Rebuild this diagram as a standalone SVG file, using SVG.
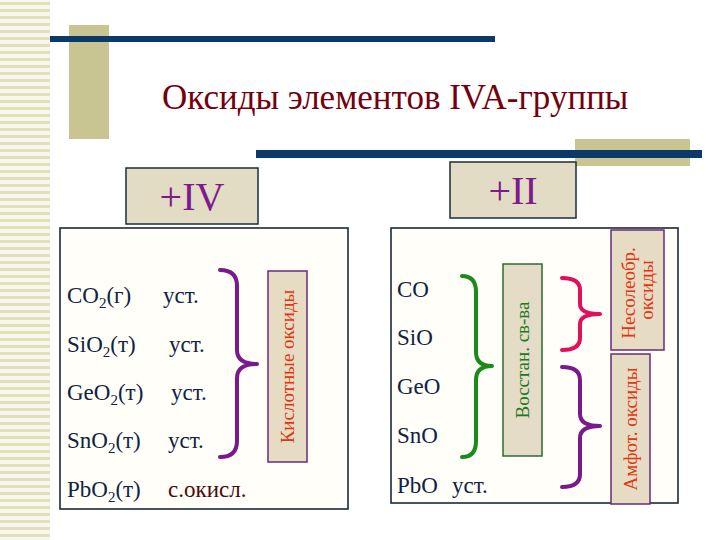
<svg xmlns="http://www.w3.org/2000/svg" width="720" height="540" viewBox="0 0 720 540">
  <defs>
    <pattern id="stripes" x="0" y="0" width="50" height="7" patternUnits="userSpaceOnUse">
      <rect x="0" y="0" width="50" height="7" fill="#f8f7ec"/>
      <rect x="0" y="2" width="50" height="3" fill="#e2dfbf"/>
    </pattern>
  </defs>
  <style>
    .t { font-family: "Liberation Serif", "Times New Roman", serif; }
    .chem { font-size: 23px; fill: #0f2342; }
    .sub { font-size: 15px; }
    .hdr { fill: #e1dcc3; stroke: #1a2d3c; stroke-width: 1.5; }
    .hdrtxt { font-size: 40px; fill: #7d1a8c; text-anchor: middle; }
    .panel { fill: #fffef9; stroke: #1a2a38; stroke-width: 1.6; }
    .lbl { fill: #e6dcc4; stroke: #6a2a78; stroke-width: 1.5; }
    .lbltxt { font-size: 19px; fill: #e3360f; text-anchor: middle; }
    .brace { fill: none; stroke-width: 4; stroke-linecap: round; stroke-linejoin: round; }
  </style>

  <rect width="720" height="540" fill="#ffffff"/>

  <g id="decor">
    <rect x="0" y="0" width="50" height="540" fill="url(#stripes)"/>
    <rect x="69" y="25" width="40" height="114" fill="#c8c592"/>
    <rect x="50" y="36" width="445" height="6" fill="#0b3a69"/>
    <rect x="575" y="139" width="115" height="27" fill="#c8c592"/>
    <rect x="256" y="150" width="446" height="8" fill="#0b3a69"/>
  </g>

  <g id="title">
    <text class="t" x="162" y="109" font-size="35" fill="#74000f">Оксиды элементов IVA-группы</text>
  </g>

  <g id="panel-left">
    <rect class="panel" x="60" y="228" width="288" height="281"/>
  </g>
  <g id="panel-right">
    <rect class="panel" x="391" y="228" width="287" height="275"/>
  </g>

  <g id="header-iv">
    <rect class="hdr" x="126" y="168" width="132" height="56"/>
    <text class="t hdrtxt" x="192" y="210">+IV</text>
  </g>
  <g id="header-ii">
    <rect class="hdr" x="450" y="162" width="126" height="56"/>
    <text class="t hdrtxt" x="513" y="204">+II</text>
  </g>

  <g id="oxides-iv">
    <text class="t chem" x="67" y="303">CO<tspan class="sub" dy="5">2</tspan><tspan dy="-5">(г)</tspan></text>
    <text class="t chem" x="163" y="303">уст.</text>
    <text class="t chem" x="67" y="352">SiO<tspan class="sub" dy="5">2</tspan><tspan dy="-5">(т)</tspan></text>
    <text class="t chem" x="169" y="352">уст.</text>
    <text class="t chem" x="67" y="400">GeO<tspan class="sub" dy="5">2</tspan><tspan dy="-5">(т)</tspan></text>
    <text class="t chem" x="171" y="400">уст.</text>
    <text class="t chem" x="67" y="448">SnO<tspan class="sub" dy="5">2</tspan><tspan dy="-5">(т)</tspan></text>
    <text class="t chem" x="168" y="448">уст.</text>
    <text class="t chem" x="67" y="497">PbO<tspan class="sub" dy="5">2</tspan><tspan dy="-5">(т)</tspan></text>
    <text class="t chem" x="168" y="497" style="fill:#4a0a0a">с.окисл.</text>
  </g>

  <g id="oxides-ii">
    <text class="t chem" x="397" y="297">CO</text>
    <text class="t chem" x="397" y="345">SiO</text>
    <text class="t chem" x="397" y="394">GeO</text>
    <text class="t chem" x="397" y="443">SnO</text>
    <text class="t chem" x="397" y="493">PbO</text>
    <text class="t chem" x="452" y="493">уст.</text>
  </g>

  <g id="label-acidic">
    <rect class="lbl" x="268" y="271" width="39" height="191"/>
    <text class="t lbltxt" transform="translate(287.5,366.5) rotate(-90)" x="0" y="6.5">Кислотные оксиды</text>
  </g>
  <g id="label-reducing">
    <rect x="503" y="264" width="39" height="192" fill="#e4dcc6" stroke="#2e6b2e" stroke-width="1.5"/>
    <text class="t lbltxt" style="fill:#1c7a1c" transform="translate(522.5,360) rotate(-90)" x="0" y="6.5">Восстан. св-ва</text>
  </g>
  <g id="label-nonsalt">
    <rect class="lbl" x="611" y="230" width="53" height="120"/>
    <text class="t lbltxt" transform="translate(637.5,293) rotate(-90)" x="0" y="-3">Несолеобр.</text>
    <text class="t lbltxt" transform="translate(637.5,290) rotate(-90)" x="0" y="15">оксиды</text>
  </g>
  <g id="label-amphoteric">
    <rect class="lbl" x="611" y="354" width="39" height="150"/>
    <text class="t lbltxt" transform="translate(630.5,429) rotate(-90)" x="0" y="6.5">Амфот. оксиды</text>
  </g>

  <g id="connectors">
    <path class="brace" stroke="#7a1a8a" d="M220,270 Q237,270 237,286 L237,350 Q237,364 257,364 Q237,364 237,378 L237,441 Q237,457 220,457"/>
    <path class="brace" stroke="#1a8a1a" d="M462,276 Q476,276 476,292 L476,352 Q476,366 492,366 Q476,366 476,380 L476,441 Q476,457 462,457"/>
    <path class="brace" stroke="#e0105a" d="M562,278 Q580,278 580,290 L580,304 Q580,314 600,314 Q580,314 580,324 L580,338 Q580,350 562,350"/>
    <path class="brace" stroke="#7a1a8a" d="M562,367 Q580,367 580,380 L580,414 Q580,426 600,426 Q580,426 580,438 L580,474 Q580,487 562,487"/>
  </g>
</svg>
